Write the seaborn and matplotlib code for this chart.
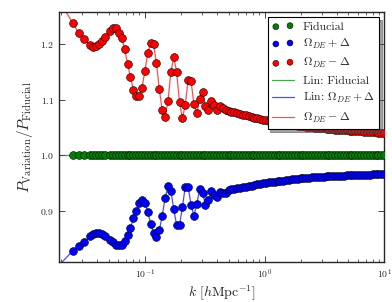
import numpy as np
import pandas as pd
import seaborn as sns
import matplotlib
matplotlib.use('Agg')
from matplotlib import pyplot as plt
from matplotlib.ticker import MultipleLocator

# log10 of k [h/Mpc] for the measured points
logk = [-1.6026, -1.5544, -1.5062, -1.4580, -1.4339, -1.4098, -1.3857, -1.3616, -1.3375,
        -1.2893, -1.2652, -1.2411, -1.2170, -1.1929, -1.1688, -1.1447, -1.1206, -1.0965,
        -1.0724, -1.0483, -1.0242, -1.0001, -0.9760, -0.9519, -0.9278, -0.9037, -0.8796,
        -0.8555, -0.8314, -0.8073, -0.7832, -0.7591, -0.7350, -0.7109, -0.6868, -0.6627,
        -0.6386, -0.6145, -0.5904, -0.5663, -0.5422, -0.5181, -0.4940, -0.4699, -0.4458,
        -0.4217, -0.3976, -0.3735, -0.3494, -0.3253, -0.3012, -0.2771, -0.2530, -0.2289,
        -0.2048, -0.1807, -0.1566, -0.1325, -0.1084, -0.0843, -0.0602, -0.0361, -0.0120,
        0.0121, 0.0362, 0.0603, 0.0844, 0.1085, 0.1326, 0.1567, 0.1808, 0.2049,
        0.2290, 0.2531, 0.2772, 0.3013, 0.3254, 0.3495, 0.3736, 0.3977, 0.4218,
        0.4459, 0.4700, 0.4941, 0.5182, 0.5423, 0.5664, 0.5905, 0.6146, 0.6387,
        0.6628, 0.6869, 0.7110, 0.7351, 0.7592, 0.7833, 0.8074, 0.8315, 0.8556,
        0.8797, 0.9038, 0.9279, 0.9520, 0.9761, 1.0000]

ratio_minus = [1.2384, 1.2204, 1.2090, 1.1982, 1.1957, 1.1969, 1.2000, 1.2054, 1.2137,
               1.2245, 1.2288, 1.2294, 1.2209, 1.2114, 1.1910, 1.1640, 1.1416, 1.1177,
               1.1068, 1.1068, 1.1213, 1.1524, 1.1843, 1.2032, 1.2000, 1.1659, 1.1189,
               1.0811, 1.0695, 1.0973, 1.1497, 1.1766, 1.1505, 1.0955, 1.0667, 1.0912,
               1.1353, 1.1342, 1.0919, 1.0753, 1.1018, 1.1135, 1.0888, 1.0822, 1.0973,
               1.0906, 1.0822, 1.0883, 1.0847, 1.0811, 1.0798, 1.0785, 1.0772, 1.0760,
               1.0745, 1.0732, 1.0719, 1.0705, 1.0692, 1.0679, 1.0666, 1.0653, 1.0641,
               1.0628, 1.0617, 1.0609, 1.0601, 1.0593, 1.0585, 1.0577, 1.0569, 1.0560,
               1.0552, 1.0544, 1.0536, 1.0528, 1.0522, 1.0516, 1.0511, 1.0505, 1.0499,
               1.0494, 1.0488, 1.0483, 1.0478, 1.0473, 1.0468, 1.0464, 1.0460, 1.0456,
               1.0452, 1.0448, 1.0444, 1.0440, 1.0436, 1.0432, 1.0429, 1.0425, 1.0421,
               1.0418, 1.0415, 1.0412, 1.0409, 1.0406, 1.0403]

ratio_plus = [0.8281, 0.8360, 0.8443, 0.8546, 0.8577, 0.8595, 0.8595, 0.8577, 0.8546,
              0.8474, 0.8432, 0.8389, 0.8378, 0.8389, 0.8461, 0.8569, 0.8695, 0.8865,
              0.8996, 0.9146, 0.9200, 0.9146, 0.8973, 0.8771, 0.8595, 0.8528, 0.8649,
              0.8912, 0.9225, 0.9447, 0.9362, 0.9027, 0.8744, 0.8739, 0.9063, 0.9434,
              0.9434, 0.9105, 0.8912, 0.9123, 0.9398, 0.9326, 0.9105, 0.9195, 0.9362,
              0.9279, 0.9243, 0.9344, 0.9326, 0.9315, 0.9375, 0.9387, 0.9397, 0.9407,
              0.9416, 0.9426, 0.9436, 0.9446, 0.9455, 0.9465, 0.9475, 0.9486, 0.9496,
              0.9506, 0.9514, 0.9521, 0.9527, 0.9534, 0.9540, 0.9546, 0.9553, 0.9559,
              0.9566, 0.9572, 0.9579, 0.9587, 0.9591, 0.9595, 0.9598, 0.9602, 0.9605,
              0.9609, 0.9612, 0.9616, 0.9619, 0.9623, 0.9626, 0.9629, 0.9631, 0.9633,
              0.9635, 0.9637, 0.9639, 0.9641, 0.9643, 0.9645, 0.9647, 0.9649, 0.9651,
              0.9653, 0.9655, 0.9657, 0.9659, 0.9661, 0.9663]

ratio_fid = [1.0] * len(logk)

# linear-theory curves start a bit further left
lin_start_logk = -1.717
lin_start = {'fid': 1.0, 'plus': 0.802, 'minus': 1.278}

k = 10 ** np.array(logk)
lin_k = 10 ** np.array([lin_start_logk] + logk)

sns.set_style('ticks')
plt.rcParams['font.family'] = 'cmr10'
plt.rcParams['mathtext.fontset'] = 'cm'
plt.rcParams['axes.formatter.use_mathtext'] = True
plt.rcParams['axes.unicode_minus'] = False

f, ax = plt.subplots(figsize=(3.92, 3.02), dpi=100)
f.subplots_adjust(left=0.151, right=0.980, bottom=0.131, top=0.960)

pts = pd.DataFrame({'k': k, 'fid': ratio_fid, 'plus': ratio_plus, 'minus': ratio_minus})
lin = pd.DataFrame({'k': lin_k,
                    'fid': [lin_start['fid']] + ratio_fid,
                    'plus': [lin_start['plus']] + ratio_plus,
                    'minus': [lin_start['minus']] + ratio_minus})

cols = {'fid': (0, 0.5, 0), 'plus': (0, 0, 1), 'minus': (1, 0, 0)}
pt_labels = {'fid': 'Fiducial', 'plus': r'$\Omega_{DE}+\Delta$', 'minus': r'$\Omega_{DE}-\Delta$'}
lin_labels = {'fid': 'Lin: Fiducial', 'plus': r'Lin: $\Omega_{DE}+\Delta$', 'minus': r'$\Omega_{DE}-\Delta$'}

pt_handles = []
ln_handles = []
for key in ['fid', 'plus', 'minus']:
    sns.lineplot(data=lin, x='k', y=key, color=cols[key], lw=0.9, alpha=0.7,
                 estimator=None, sort=False, ax=ax, label=lin_labels[key])
    ln_handles.append(ax.lines[-1])
for key in ['fid', 'plus', 'minus']:
    sns.scatterplot(data=pts, x='k', y=key, color=cols[key], edgecolor='k', linewidth=0.4,
                    s=32, ax=ax, zorder=3, label=pt_labels[key])
    pt_handles.append(ax.collections[-1])

ax.set_xscale('log')
ax.set_xlim(0.0192, 10)
ax.set_ylim(0.807, 1.258)
ax.yaxis.set_major_locator(MultipleLocator(0.1))
ax.tick_params(which='both', direction='in', top=True, right=True, labelsize=7)
ax.tick_params(which='major', length=4, width=0.6)
ax.tick_params(which='minor', length=2, width=0.5)
for s in ax.spines.values():
    s.set_linewidth(1.0)

ax.set_xlabel(r'$k\ [h{\rm Mpc}^{-1}]$', fontsize=10, labelpad=2)
ax.set_ylabel(r'$P_{\rm Variation}/P_{\rm Fiducial}$', fontsize=11, labelpad=4)

leg = ax.legend(pt_handles + ln_handles,
                [pt_labels[c] for c in ['fid', 'plus', 'minus']] + [lin_labels[c] for c in ['fid', 'plus', 'minus']],
                loc='upper right', fontsize=8.5, scatterpoints=2, markerscale=0.75,
                fancybox=False, shadow=True, framealpha=1, edgecolor='k',
                handlelength=1.8, labelspacing=0.45, borderpad=0.4, borderaxespad=0.4)
leg.get_frame().set_linewidth(0.8)

f.savefig('out.png', dpi=100)
